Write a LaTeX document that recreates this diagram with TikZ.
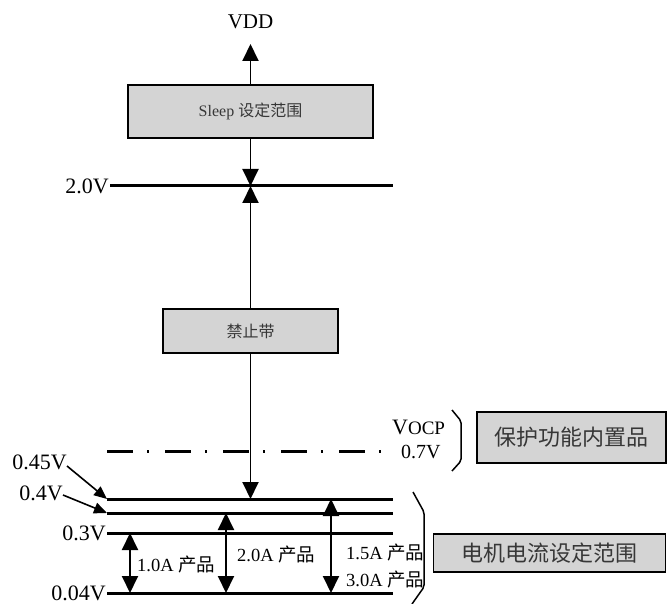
\documentclass[tikz,border=0pt]{standalone}
\usepackage{fontspec}
\setmainfont{Liberation Serif}
\newfontfamily\cjk{Noto Sans CJK SC}
\usetikzlibrary{arrows.meta}
\definecolor{boxgray}{RGB}{212,212,212}
\definecolor{inkgray}{RGB}{55,55,55}

\begin{document}
\begin{tikzpicture}[x=1pt,y=-1pt,
    level/.style={line width=3pt},
    tip/.style={line width=1.9pt,-{Triangle[length=17pt,width=16pt]}},
    twotip/.style={line width=1.9pt,{Triangle[length=17pt,width=16pt]}-{Triangle[length=17pt,width=16pt]}},
    pointer/.style={line width=1.6pt,-{Triangle[length=13pt,width=11pt]}},
    rangebox/.style={draw,line width=1.8pt,fill=boxgray,text=inkgray,inner sep=0pt},
    volt/.style={font=\fontsize{22}{22}\selectfont,inner sep=0pt},
    prod/.style={font=\fontsize{18.5}{18.5}\selectfont,anchor=west,inner sep=0pt}]
    \useasboundingbox (0,0) rectangle (667,604);
    % voltage levels
    \coordinate (L20) at (110,186);  \coordinate (R20) at (393,186);
    \coordinate (L045) at (107,499); \coordinate (R045) at (393,499);
    \coordinate (L04) at (107,513);  \coordinate (R04) at (393,513);
    \coordinate (L03) at (107,533);  \coordinate (R03) at (393,533);
    \coordinate (L004) at (107,593); \coordinate (R004) at (393,593);
    \foreach \p in {20,045,04,03,004} {\draw[level] (L\p) -- (R\p);}
    \draw[level,dash pattern=on 26pt off 14pt on 2pt off 16pt] (107,451) -- (386,451);
    % labels of the levels
    \node[volt,anchor=east] (v20) at (109,186) {2.0V};
    \node[volt,anchor=east] (v045) at (67,462) {0.45V};
    \node[volt,anchor=east] (v04) at (63,493) {0.4V};
    \node[volt,anchor=east] (v03) at (106,533) {0.3V};
    \node[volt,anchor=east] (v004) at (106,593) {0.04V};
    \draw[pointer] ([yshift=-4pt]v045.east) -- (L045);
    \draw[pointer] ([yshift=-2pt]v04.east) -- (L04);
    \node[font=\fontsize{21}{21}\selectfont] (vdd) at (250.5,22) {VDD};
    \coordinate (top) at (250.5,44);
    % boxes
    \node[rangebox,minimum width=245pt,minimum height=53pt,font=\fontsize{16}{16}\selectfont]
        (sleep) at (250.5,111.5) {Sleep {\cjk 设定范围}};
    \node[rangebox,minimum width=175pt,minimum height=44pt,font=\cjk\fontsize{16}{16}\selectfont]
        (ban) at (250.5,331) {禁止带};
    \node[rangebox,minimum width=189pt,minimum height=51pt,font=\cjk\fontsize{22}{22}\selectfont]
        (ocpbox) at (571.5,437.5) {保护功能内置品};
    \node[rangebox,minimum width=232pt,minimum height=38pt,font=\cjk\fontsize{22}{22}\selectfont]
        (motorbox) at (549.5,553) {电机电流设定范围};
    \draw[tip] (sleep.north) -- (top);
    \draw[tip] (sleep.south) -- (250.5,186);
    \draw[tip] (ban.north) -- (250.5,186);
    \draw[tip] (ban.south) -- (250.5,499);
    % current ranges
    \draw[twotip] (130,533) -- (130,593);
    \draw[twotip] (226,513) -- (226,593);
    \draw[twotip] (331,499) -- (331,593);
    \node[prod] (p10) at (137,565) {1.0A {\cjk 产品}};
    \node[prod] (p20) at (237,555) {2.0A {\cjk 产品}};
    \node[prod] (p15) at (346,553) {1.5A {\cjk 产品}};
    \node[prod] (p30) at (346,580) {3.0A {\cjk 产品}};
    % VOCP
    \node[anchor=base west,inner sep=0pt] (vocp) at (392,434)
        {\fontsize{22}{22}\selectfont V\fontsize{19}{19}\selectfont OCP};
    \node[anchor=west,inner sep=0pt,font=\fontsize{20}{20}\selectfont] (v07) at (401,452) {0.7V};
    % braces
    \draw[line width=1.5pt,rounded corners=2pt] (452,410) -- (461,421) -- (461,461) -- (452,471);
    \draw[line width=1.5pt,rounded corners=2pt] (413,492) -- (424,512) -- (424,587) -- (412,604);
\end{tikzpicture}
\end{document}
